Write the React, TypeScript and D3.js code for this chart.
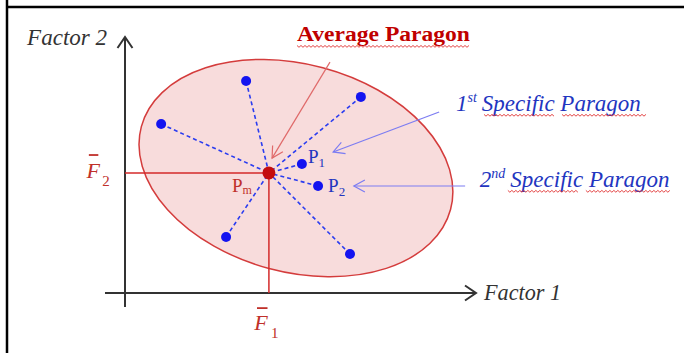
import React from "react";
import * as d3 from "d3";

// data space: Factor 1 (x) and Factor 2 (y), 0..100
const pointNames = ["a", "b", "c", "P1", "P2", "d", "e"];
const pointX = [34.5, 67.2, 10.3, 50.4, 55.0, 28.8, 64.1];
const pointY = [82.8, 76.6, 66.0, 50.4, 41.8, 21.9, 15.2];
const meanPoint = { x: 41.0, y: 46.9, label: "P", sub: "m" };
const ellipse = { cx: 48.7, cy: 48.8, rx: 45.6, ry: 40.6, angle: 15 };

const annotations = [
  { text: "Average Paragon", sup: "", num: "", x0: 58.4, y0: 90.2, x1: 41.9, y1: 52.7, lx: 49.0, ly: 98.4 },
  { text: "Specific Paragon", sup: "st", num: "1", x0: 89.5, y0: 70.7, x1: 59.3, y1: 55.1, lx: 94.3, ly: 71.1 },
  { text: "Specific Paragon", sup: "nd", num: "2", x0: 96.9, y0: 41.8, x1: 65.2, y1: 41.8, lx: 101.1, ly: 41.4 },
];

const W = 684;
const H = 353;

const x = d3.scaleLinear().domain([0, 100]).range([125, 476]);
const y = d3.scaleLinear().domain([0, 100]).range([293, 37]);

const chevron = (x0: number, y0: number, x1: number, y1: number, len: number, half: number) => {
  const a = Math.atan2(y1 - y0, x1 - x0);
  const bx = x1 - len * Math.cos(a);
  const by = y1 - len * Math.sin(a);
  const nx = -Math.sin(a) * half;
  const ny = Math.cos(a) * half;
  return `M${bx + nx},${by + ny}L${x1},${y1}L${bx - nx},${by - ny}`;
};

const wavy = (x0: number, x1: number, yy: number) => {
  const pts = d3.range(x0, x1, 2).map((v, i) => [v, yy + (i % 2 ? 1.2 : -0.6)] as [number, number]);
  return d3.line()(pts) || "";
};

const BLUE = "#1414f0";
const BLUE_TXT = "#2235c0";
const RED = "#c40d0d";
const serif = "'Liberation Serif', 'Times New Roman', serif";

export default function App() {
  const px = meanPoint.x;
  const py = meanPoint.y;
  return (
    <svg width={W} height={H} style={{ position: "absolute", left: 0, top: 0, background: "#fff", fontFamily: serif }}>
      {/* frame */}
      <line x1={7} y1={0} x2={7} y2={H} stroke="#000" strokeWidth={2.5} />
      <line x1={7} y1={7} x2={W} y2={7} stroke="#000" strokeWidth={2.5} />

      {/* ellipse */}
      <ellipse
        cx={x(ellipse.cx)}
        cy={y(ellipse.cy)}
        rx={x(ellipse.rx) - x(0)}
        ry={y(0) - y(ellipse.ry)}
        transform={`rotate(${ellipse.angle},${x(ellipse.cx)},${y(ellipse.cy)})`}
        fill="#f8dcdc"
        stroke="#d43c3c"
        strokeWidth={1.5}
      />

      {/* axes */}
      <line x1={x(0)} y1={y(-5.5)} x2={x(0)} y2={y(100)} stroke="#333" strokeWidth={2} />
      <path d={chevron(x(0), y(90), x(0), y(100), 11, 7.5)} fill="none" stroke="#333" strokeWidth={2} />
      <line x1={x(-5.7)} y1={y(0)} x2={x(100)} y2={y(0)} stroke="#333" strokeWidth={2} />
      <path d={chevron(x(90), y(0), x(100), y(0), 11, 7.5)} fill="none" stroke="#333" strokeWidth={2} />
      <text x={x(-27.9)} y={y(96.9)} fontSize={23} fontStyle="italic" fill="#333" textLength={80} lengthAdjust="spacingAndGlyphs">Factor 2</text>
      <text x={x(102.3)} y={y(-2.9)} fontSize={23} fontStyle="italic" fill="#333" textLength={77} lengthAdjust="spacingAndGlyphs">Factor 1</text>

      {/* mean projections */}
      <line x1={x(0)} y1={y(py)} x2={x(px)} y2={y(py)} stroke="#d42a2a" strokeWidth={1.5} />
      <line x1={x(px)} y1={y(py)} x2={x(px)} y2={y(0)} stroke="#d42a2a" strokeWidth={1.5} />

      {/* F bar labels */}
      <g fill="#c0302a">
        <line x1={x(-10.3)} x2={x(-7.6)} y1={y(53.9)} y2={y(53.9)} stroke="#c0302a" strokeWidth={1.8} />
        <text x={x(-11.0)} y={y(44.9)} fontSize={22} fontStyle="italic">F</text>
        <text x={x(-6.5)} y={y(41.8)} fontSize={15}>2</text>
        <line x1={x(37.6)} x2={x(40.6)} y1={y(-5.9)} y2={y(-5.9)} stroke="#c0302a" strokeWidth={1.8} />
        <text x={x(36.8)} y={y(-14.5)} fontSize={22} fontStyle="italic">F</text>
        <text x={x(41.6)} y={y(-17.6)} fontSize={15}>1</text>
      </g>

      {/* dashed spokes */}
      {pointX.map((v, i) => (
        <line
          key={"s" + pointNames[i]}
          x1={x(v)}
          y1={y(pointY[i])}
          x2={x(px)}
          y2={y(py)}
          stroke="#2a3cf0"
          strokeWidth={1.6}
          strokeDasharray="4,3"
        />
      ))}
      {pointX.map((v, i) => (
        <circle key={"p" + pointNames[i]} cx={x(v)} cy={y(pointY[i])} r={5} fill={BLUE} />
      ))}
      <circle cx={x(px)} cy={y(py)} r={6.5} fill={RED} />

      {/* point labels */}
      <text x={x(pointX[3]) + 6} y={y(pointY[3]) - 1} fontSize={19} fill={BLUE_TXT}>
        P<tspan fontSize={13} dy={4}>1</tspan>
      </text>
      <text x={x(pointX[4]) + 10} y={y(pointY[4]) + 6} fontSize={19} fill={BLUE_TXT}>
        P<tspan fontSize={13} dy={4}>2</tspan>
      </text>
      <text x={x(px) - 37} y={y(py) + 19} fontSize={19} fill="#c0302a">
        {meanPoint.label}<tspan fontSize={12} dy={2}>{meanPoint.sub}</tspan>
      </text>

      {/* annotations */}
      {annotations.map((a, i) => {
        const col = i === 0 ? "#e06a6a" : "#7c7cf2";
        return (
          <g key={"a" + i}>
            <line x1={x(a.x0)} y1={y(a.y0)} x2={x(a.x1)} y2={y(a.y1)} stroke={col} strokeWidth={1.2} />
            <path d={chevron(x(a.x0), y(a.y0), x(a.x1), y(a.y1), 11, 6)} fill="none" stroke={col} strokeWidth={1.2} />
          </g>
        );
      })}
      <text x={x(annotations[0].lx)} y={y(annotations[0].ly)} fontSize={20} fontWeight="bold" fill="#c00000" textLength={173} lengthAdjust="spacingAndGlyphs">
        {annotations[0].text}
      </text>
      <path d={wavy(x(annotations[0].lx), x(annotations[0].lx) + 173, y(annotations[0].ly) + 5)} fill="none" stroke="#e03030" strokeWidth={0.9} />
      {annotations.slice(1).map((a, i) => {
        const lx = x(a.lx);
        const ly = y(a.ly);
        return (
          <g key={"t" + i} fill={BLUE_TXT} fontStyle="italic">
            <text x={lx} y={ly} fontSize={23}>
              {a.num}
              <tspan fontSize={14} dy={-9}>{a.sup}</tspan>
              <tspan dy={9} dx={5}>{a.text}</tspan>
            </text>
            <path d={wavy(lx + 28, lx + 99, ly + 4)} fill="none" stroke="#e03030" strokeWidth={0.9} />
            <path d={wavy(lx + 106, lx + 191, ly + 4)} fill="none" stroke="#e03030" strokeWidth={0.9} />
          </g>
        );
      })}
    </svg>
  );
}
